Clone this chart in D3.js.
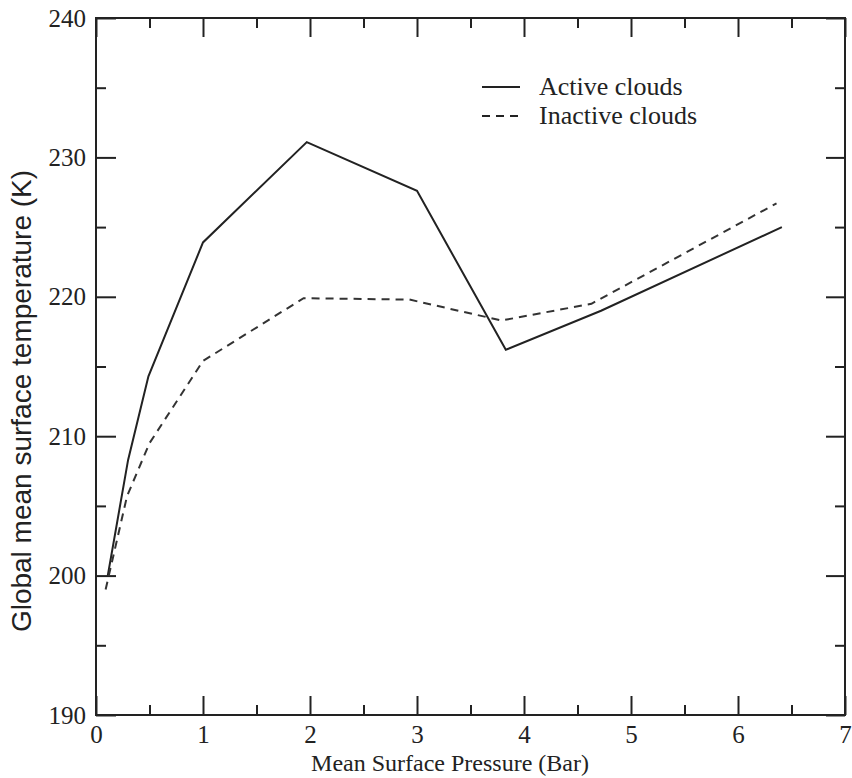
<!DOCTYPE html>
<html>
<head>
<meta charset="utf-8">
<script src="https://cdn.jsdelivr.net/npm/d3@7"></script>
<style>
  body { margin: 0; background: #fff; }
  .tick text { font-family: "Liberation Serif", "Times New Roman", serif; font-size: 25px; fill: #222; }
  .axisText { font-family: "Liberation Serif", "Times New Roman", serif; fill: #222; }
</style>
</head>
<body>
<script>
var svgWidth = 852;
var svgHeight = 778;

var margin = { top: 18, right: 7, bottom: 63, left: 96 };
var width = svgWidth - margin.left - margin.right;
var height = svgHeight - margin.top - margin.bottom;

// data
var activePressure = [0.11, 0.30, 0.49, 1.0, 1.97, 3.0, 3.83, 4.72, 6.41];
var activeTemp     = [200.0, 208.3, 214.3, 223.9, 231.1, 227.6, 216.2, 219.0, 225.0];
var inactivePressure = [0.09, 0.29, 0.5, 1.0, 1.94, 2.93, 3.79, 4.63, 6.36];
var inactiveTemp     = [199.0, 205.7, 209.5, 215.4, 219.9, 219.8, 218.3, 219.5, 226.7];
var seriesNames = ["Active clouds", "Inactive clouds"];
var xTicks = [0, 1, 2, 3, 4, 5, 6, 7];
var yTicks = [190, 200, 210, 220, 230, 240];

var svg = d3.select("body")
    .append("svg")
    .attr("width", svgWidth)
    .attr("height", svgHeight);

var chartGroup = svg.append("g")
    .attr("transform", `translate(${margin.left}, ${margin.top})`);

var xScale = d3.scaleLinear().domain([0, 7]).range([0, width]);
var yScale = d3.scaleLinear().domain([190, 240]).range([height, 0]);

var minorX = d3.range(0.5, 7, 1);
var minorY = d3.range(195, 240, 10);

function styleAxis(g) {
    g.select(".domain").remove();
    g.selectAll(".tick line").attr("stroke", "#222").attr("stroke-width", 2);
}

// bottom axis, ticks inward
chartGroup.append("g")
    .attr("transform", `translate(0,${height})`)
    .call(d3.axisBottom(xScale).tickValues(xTicks).tickSize(-19).tickPadding(10).tickFormat(d3.format("d")))
    .call(styleAxis);
chartGroup.append("g")
    .attr("transform", `translate(0,${height})`)
    .call(d3.axisBottom(xScale).tickValues(minorX).tickSize(-10).tickFormat(""))
    .call(styleAxis);

// top axis
chartGroup.append("g")
    .call(d3.axisTop(xScale).tickValues(xTicks).tickSize(-19).tickFormat(""))
    .call(styleAxis);
chartGroup.append("g")
    .call(d3.axisTop(xScale).tickValues(minorX).tickSize(-10).tickFormat(""))
    .call(styleAxis);

// left axis
chartGroup.append("g")
    .call(d3.axisLeft(yScale).tickValues(yTicks).tickSize(-20).tickPadding(10).tickFormat(d3.format("d")))
    .call(styleAxis);
chartGroup.append("g")
    .call(d3.axisLeft(yScale).tickValues(minorY).tickSize(-10).tickFormat(""))
    .call(styleAxis);

// right axis
chartGroup.append("g")
    .attr("transform", `translate(${width},0)`)
    .call(d3.axisRight(yScale).tickValues(yTicks).tickSize(-19).tickFormat(""))
    .call(styleAxis);
chartGroup.append("g")
    .attr("transform", `translate(${width},0)`)
    .call(d3.axisRight(yScale).tickValues(minorY).tickSize(-10).tickFormat(""))
    .call(styleAxis);

// frame
chartGroup.append("rect")
    .attr("width", width)
    .attr("height", height)
    .attr("fill", "none")
    .attr("stroke", "#222")
    .attr("stroke-width", 2);

// lines
var line = d3.line()
    .x(d => xScale(d[0]))
    .y(d => yScale(d[1]));

var activeData = activePressure.map((p, i) => [p, activeTemp[i]]);
var inactiveData = inactivePressure.map((p, i) => [p, inactiveTemp[i]]);

chartGroup.append("path")
    .datum(activeData)
    .attr("d", line)
    .attr("fill", "none")
    .attr("stroke", "#222")
    .attr("stroke-width", 2);

chartGroup.append("path")
    .datum(inactiveData)
    .attr("d", line)
    .attr("fill", "none")
    .attr("stroke", "#333")
    .attr("stroke-width", 2)
    .attr("stroke-dasharray", "8,6");

// legend
var legend = svg.append("g")
    .attr("transform", "translate(482, 87)");

legend.selectAll("line")
    .data(seriesNames)
    .enter()
    .append("line")
    .attr("x1", 0)
    .attr("x2", 38)
    .attr("y1", (d, i) => i * 29)
    .attr("y2", (d, i) => i * 29)
    .attr("stroke", "#222")
    .attr("stroke-width", 2)
    .attr("stroke-dasharray", (d, i) => i ? "8,6" : null);

legend.selectAll("text")
    .data(seriesNames)
    .enter()
    .append("text")
    .attr("class", "axisText")
    .attr("x", 57)
    .attr("y", (d, i) => i * 29 + 8)
    .style("font-size", "26px")
    .text(d => d);

// axis labels
svg.append("text")
    .attr("class", "axisText")
    .attr("x", 450)
    .attr("y", 771)
    .attr("text-anchor", "middle")
    .style("font-size", "24px")
    .text("Mean Surface Pressure (Bar)");

svg.append("text")
    .attr("transform", "translate(31, 401) rotate(-90)")
    .attr("text-anchor", "middle")
    .style("font-family", "'Liberation Sans', Arial, sans-serif")
    .style("font-size", "28px")
    .style("fill", "#222")
    .text("Global mean surface temperature (K)");
</script>
</body>
</html>
